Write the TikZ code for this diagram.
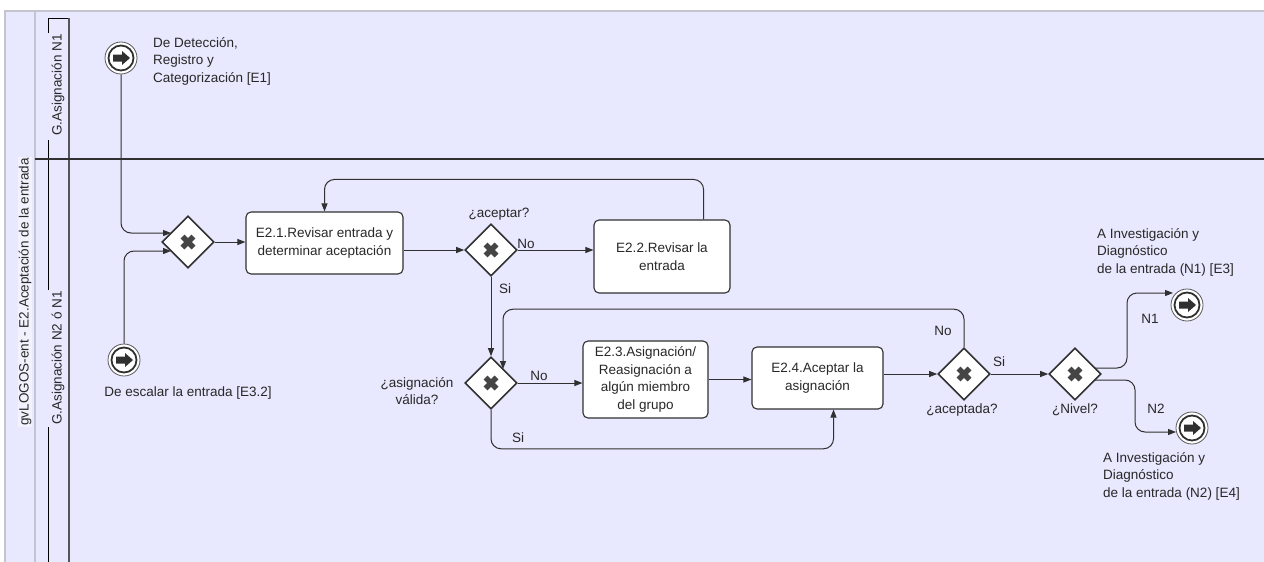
\documentclass[tikz,border=0pt]{standalone}
\usepackage{fontspec}
\setmainfont{Liberation Sans}
\usetikzlibrary{arrows.meta,shapes.geometric,calc}
\definecolor{bg}{RGB}{232,232,254}
\definecolor{ln}{RGB}{48,48,48}
\definecolor{txt}{RGB}{40,40,40}
\definecolor{poolline}{RGB}{196,196,206}
\newcommand\bpmnevt[2]{%
  \node[evt] (#1) at (#2) {};
  \draw[line width=1.8pt, draw=ln] (#1.center) circle (12.5pt);
  \fill[ln] ($(#1.center)+(-8,-3.5)$) -- ++(9,0) -- ++(0,-3.5) -- ++(8,7) -- ++(-8,7) -- ++(0,-3.5) -- ++(-9,0) -- cycle;
}
\newcommand\bpmngw[2]{%
  \node[gw] (#1) at (#2) {};
  \draw[line width=5.5pt, draw=ln!90] ($(#1.center)+(-5.5,-5.5)$) -- ($(#1.center)+(5.5,5.5)$);
  \draw[line width=5.5pt, draw=ln!90] ($(#1.center)+(-5.5,5.5)$) -- ($(#1.center)+(5.5,-5.5)$);
}
\begin{document}
\begin{tikzpicture}[x=1pt,y=-1pt,
  every node/.style={font=\fontsize{13.5}{17.5}\selectfont, text=txt},
  task/.style={draw=ln, line width=1.1pt, fill=white, rounded corners=5pt, align=center, inner sep=0pt},
  gw/.style={diamond, draw=ln, line width=1.6pt, fill=white, minimum width=52pt, minimum height=52pt, inner sep=0pt},
  evt/.style={circle, draw=gray!70!black, line width=0.8pt, fill=white, minimum size=32pt, inner sep=0pt},
  flow/.style={draw=ln, line width=1pt, -{Triangle[length=8pt,width=6pt]}, rounded corners=10pt},
  lbl/.style={inner sep=0pt, align=left},
  lanelbl/.style={rotate=90, inner sep=1pt, fill=white!45!bg},
]
\useasboundingbox (0,0) rectangle (1264,562);
\fill[white] (0,0) rectangle (1264,562);
% pool
\fill[bg] (5,11) rectangle (1264,562);
\draw[poolline, line width=1.5pt] (5,562) -- (5,11) -- (1264,11);
\draw[poolline, line width=2pt] (35,11) -- (35,562);
\node[lanelbl] (pool) at (25,292) {gvLOGOS-ent - E2.Aceptación de la entrada};
% lane brackets
\draw[black, line width=0.9pt] (48,562) -- (48,427) (48,290) -- (48,140) (48,33) -- (48,18) -- (69,18);
\draw[ln!80!bg, line width=1.1pt] (69,18) -- (69,562);
\node[lanelbl, fill=none] (lane1) at (58,85) {G.Asignación N1};
\node[lanelbl, fill=none] (lane2) at (58,358) {G.Asignación N2 ó N1};
\draw[ln, line width=2.6pt] (35,159) -- (1264,159);

% events
\bpmnevt{s1}{121,58}
\bpmnevt{s2}{124,360}
\bpmnevt{e1}{1187,305}
\bpmnevt{e2}{1192,428}

% gateways
\bpmngw{g1}{188,242}
\bpmngw{g2}{491,250}
\bpmngw{g3}{491,383}
\bpmngw{g4}{964,374}
\bpmngw{g5}{1075,374}

% tasks
\node[task, minimum width=157pt, minimum height=62pt] (t1) at (324.5,243) {E2.1.Revisar entrada y\\determinar aceptación};
\node[task, minimum width=136pt, minimum height=73pt] (t2) at (662,256.5) {E2.2.Revisar la\\entrada};
\node[task, minimum width=125pt, minimum height=77pt] (t3) at (645.5,379.5) {E2.3.Asignación/\\Reasignación a\\algún miembro\\del grupo};
\node[task, minimum width=131pt, minimum height=62pt] (t4) at (817.5,378) {E2.4.Aceptar la\\asignación};

% labels
\node[lbl, anchor=west] (ls1) at (153,61) {De Detección,\\Registro y\\Categorización [E1]};
\node[lbl] (ls2) at (188,393) {De escalar la entrada [E3.2]};
\node[lbl] (lg2) at (499,214) {¿aceptar?};
\node[lbl] (lg2no) at (526,244) {No};
\node[lbl] (lg2si) at (505,289) {Si};
\node[lbl, align=center] (lg3) at (417,391) {¿asignación\\válida?};
\node[lbl] (lg3no) at (539,376) {No};
\node[lbl] (lg3si) at (518,438) {Si};
\node[lbl] (lg4no) at (943,331) {No};
\node[lbl] (lg4si) at (999,362) {Si};
\node[lbl] (lg4) at (962,410) {¿aceptada?};
\node[lbl] (lg5) at (1075,410) {¿Nivel?};
\node[lbl] (ln1) at (1150,319) {N1};
\node[lbl] (ln2) at (1156,409) {N2};
\node[lbl, anchor=west] (le1) at (1097,252) {A Investigación y\\Diagnóstico\\de la entrada (N1) [E3]};
\node[lbl, anchor=west] (le2) at (1103,476) {A Investigación y\\Diagnóstico\\de la entrada (N2) [E4]};

% flows
\draw[flow] (s1.south) |- ($(g1.center)+(-17,-9)$);
\draw[flow] (s2.north) |- ($(g1.center)+(-17,9)$);
\draw[flow] (g1.east) -- (t1.west |- g1.east);
\draw[flow] (t1.east |- g2.west) -- (g2.west);
\draw[flow] (g2.east) -- (g2.east -| t2.west);
\draw[flow] ($(t2.north east)+(-27,0)$) -- ++(0,-40) -| (t1.north);
\draw[flow] (g2.south) -- (g3.north);
\draw[flow] (g3.east) -- (g3.east -| t3.west);
\draw[flow] (t3.east) -- (t3.east -| t4.west);
\draw[flow] (g3.south) -- ($(g3.south)+(0,39)$) -| ($(t4.south)+(16,0)$);
\draw[flow] (t4.east |- g4.west) -- (g4.west);
\draw[flow] (g4.north) -- ($(g4.north)+(0,-38)$) -| ($(g3.center)+(12,-14)$);
\draw[flow] (g4.east) -- (g5.west);
\draw[flow] ($(g5.center)+(20,-6)$) -- ($(g5.center)+(52,-6)$) -- ($(g5.center)+(52,-81)$) -- ($(e1.center)+(-14,-12)$);
\draw[flow] ($(g5.center)+(20,6)$) -- ($(g5.center)+(60,6)$) -- ($(g5.center)+(60,58)$) -- ($(e2.center)+(-16,4)$);
\end{tikzpicture}
\end{document}
